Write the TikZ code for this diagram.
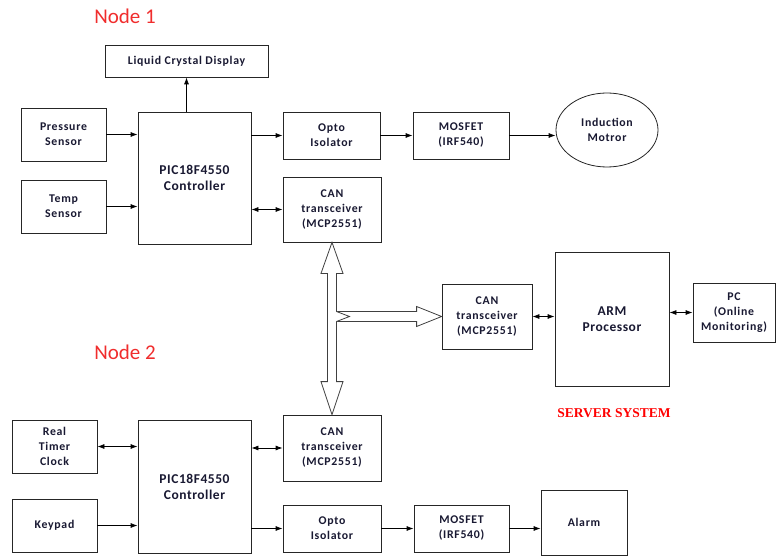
\documentclass[tikz,border=0pt]{standalone}
\usepackage{fontspec}
\setmainfont{Carlito}
\newfontfamily\lblfont[LetterSpace=6]{Carlito}
\newfontfamily\picfont[LetterSpace=4]{Carlito}
\newfontfamily\srvfont{Liberation Serif}
\usepackage{tikz}
\usetikzlibrary{positioning,shapes.geometric,arrows.meta,calc}
\definecolor{txtcol}{RGB}{25,25,50}
\definecolor{nodered}{RGB}{240,45,45}

\begin{document}
\begin{tikzpicture}[x=1pt, y=-1pt,
			block/.style={rectangle, draw=black!85, line width=0.8pt, fill=white, align=center, inner sep=1pt, text=txtcol, font=\lblfont\bfseries\fontsize{11.8}{15}\selectfont},
			sensor/.style={block, minimum width=85pt, minimum height=53pt},
			unit/.style={block, minimum width=97pt, minimum height=47pt},
			canbox/.style={block, minimum width=98pt, minimum height=65pt},
			ctrl/.style={block, minimum width=113pt, minimum height=132pt, font=\picfont\bfseries\fontsize{13.5}{16}\selectfont},
			title/.style={text=nodered, font=\fontsize{21}{24}\selectfont},
			arr/.style={line width=0.8pt, -{Latex[length=7pt,width=5pt]}},
			biarr/.style={line width=0.8pt, {Latex[length=7pt,width=5pt]}-{Latex[length=7pt,width=5pt]}},
			bus/.style={draw=black!75, line width=0.8pt, fill=white, line join=miter},
			]
			\useasboundingbox (0,0) rectangle (776,556);
			%Titles
				\node[title]		(title1)		at (125,16)		{Node 1};
				\node[title]		(title2)		at (125,352)		{Node 2};
				\node[text=red, font=\srvfont\bfseries\fontsize{13.5}{16}\selectfont]	(server)	at (614,413)	{SERVER SYSTEM};

			%Node 1
				\node[block, minimum width=163pt, minimum height=32pt]	(lcd)	at (186.5,61)	{Liquid Crystal Display};
				\node[sensor]		(press)		at (63.5,134.5)		{Pressure\\Sensor};
				\node[sensor]		(temp)		at (63.5,206.5)		{Temp\\Sensor};
				\node[ctrl]		(pic1)		at (194.5,178)		{PIC18F4550\\Controller};
				\node[unit]		(opto1)		at (331.5,135.5)	{Opto\\Isolator};
				\node[canbox]		(can1)		at (332,209.5)		{CAN\\transceiver\\(MCP2551)};
				\node[unit, minimum width=96pt]	(mos1)	at (461,135.5)	{MOSFET\\(IRF540)};
				\node[block, ellipse, inner sep=0pt, minimum width=102pt, minimum height=74pt]	(motor)	at (607,130)	{Induction\\Motror};

			%Server
				\node[canbox, minimum width=90pt]	(scan)	at (487,316.5)	{CAN\\transceiver\\(MCP2551)};
				\node[ctrl, minimum width=114pt, minimum height=134pt]	(arm)	at (612,319)	{ARM\\Processor};
				\node[block, minimum width=82pt, minimum height=59pt]	(pc)	at (734,312.5)	{PC\\(Online\\Monitoring)};

			%Node 2
				\node[sensor]		(rtc)		at (54.5,446.5)		{Real\\Timer\\Clock};
				\node[sensor]		(keypad)	at (54.5,525.5)		{Keypad};
				\node[ctrl, minimum height=133pt]	(pic2)	at (194.5,486.5)	{PIC18F4550\\Controller};
				\node[canbox, minimum height=66pt]	(can2)	at (332,448)	{CAN\\transceiver\\(MCP2551)};
				\node[unit, minimum width=98pt]	(opto2)	at (332,528.5)	{Opto\\Isolator};
				\node[unit, minimum width=95pt]	(mos2)	at (461.5,528.5)	{MOSFET\\(IRF540)};
				\node[block, minimum width=86pt, minimum height=65pt]	(alarm)	at (584,522.5)	{Alarm};

			%Lines
				\draw[arr] (lcd.south |- pic1.north) -- (lcd.south);
				\draw[arr] (press.east) -- (press.east -| pic1.west);
				\draw[arr] (temp.east) -- (temp.east -| pic1.west);
				\draw[arr] (opto1.west -| pic1.east) -- (opto1.west);
				\draw[arr] (opto1.east) -- (mos1.west);
				\draw[arr] (mos1.east) -- (mos1.east -| motor.west);
				\draw[biarr] (can1.west -| pic1.east) -- (can1.west);
				\draw[biarr] (scan.east) -- (scan.east -| arm.west);
				\draw[biarr] (pc.west -| arm.east) -- (pc.west);
				\draw[biarr] (rtc.east) -- (rtc.east -| pic2.west);
				\draw[biarr] (can2.west -| pic2.east) -- (can2.west);
				\draw[arr] (keypad.east) -- (keypad.east -| pic2.west);
				\draw[arr] (opto2.west -| pic2.east) -- (opto2.west);
				\draw[arr] (opto2.east) -- (mos2.west);
				\draw[arr] (mos2.east) -- (mos2.east -| alarm.west);

			%CAN bus
				\coordinate (bustop) at (can1.south);
				\coordinate (busbot) at (can2.north);
				\coordinate (busend) at (scan.west);
				\draw[bus] (bustop) -- ++(11,31) -- ++(-6.5,0) -- ($(busend -| bustop)+(4.5,-5)$) -- ($(busend)+(-25,-5)$) -- ++(0,-5) -- (busend)
					-- ++(-25,10) -- ++(0,-5) -- ($(busend -| bustop)+(4.5,5)$) -- ($(busbot)+(4.5,-33)$) -- ++(6.5,0) -- (busbot)
					-- ++(-11,-33) -- ++(6.5,0) -- ($(bustop)+(-4.5,31)$) -- ++(-6.5,0) -- cycle;
				\draw[bus] ($(busend -| bustop)+(4.5,-5)$) -- ++(13,5) -- ++(-13,5);
		\end{tikzpicture}
\end{document}
